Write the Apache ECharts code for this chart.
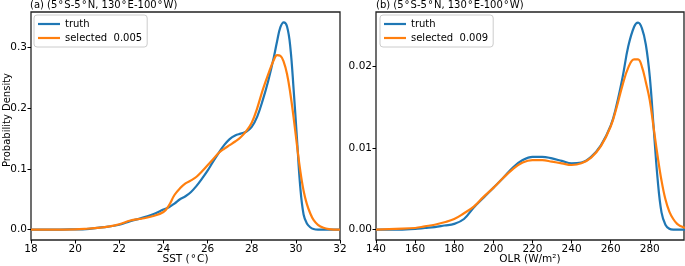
<!DOCTYPE html>
<html>
<head>
    <meta charset="utf-8">
    <script type="text/javascript" src="https://cdn.jsdelivr.net/npm/echarts@6/dist/echarts.min.js"></script>
</head>
<body style="margin:0;background:#fff;">
<div id="main" style="width:685px;height:266px;"></div>

<script type="text/javascript">
    // (a) SST 概率密度
    var sstX = [18, 19, 20, 20.5, 21, 21.5, 22, 22.5, 23, 23.5, 24, 24.25, 24.5, 24.75, 25, 25.25, 25.5, 25.75,
        26, 26.25, 26.5, 26.75, 27, 27.25, 27.5, 27.75, 28, 28.25, 28.5, 28.75, 29, 29.15, 29.3, 29.45, 29.6,
        29.75, 29.9, 30.05, 30.2, 30.35, 30.5, 30.65, 30.8, 31, 31.25, 31.5, 32];
    var sstTruth = [0, 0, 0.0005, 0.001, 0.003, 0.005, 0.008, 0.014, 0.019, 0.025, 0.033, 0.037, 0.043, 0.050,
        0.055, 0.062, 0.072, 0.084, 0.097, 0.112, 0.126, 0.139, 0.149, 0.155, 0.158, 0.161, 0.169, 0.186, 0.213,
        0.245, 0.283, 0.310, 0.333, 0.341, 0.334, 0.300, 0.230, 0.150, 0.070, 0.025, 0.010, 0.004, 0.001, 0, 0, 0, 0];
    var sstSelected = [0, 0, 0.0005, 0.0015, 0.003, 0.005, 0.009, 0.015, 0.018, 0.022, 0.029, 0.040, 0.057, 0.068,
        0.076, 0.081, 0.087, 0.096, 0.106, 0.116, 0.126, 0.133, 0.139, 0.145, 0.152, 0.162, 0.176, 0.200, 0.230,
        0.256, 0.279, 0.287, 0.286, 0.276, 0.256, 0.224, 0.184, 0.139, 0.097, 0.064, 0.042, 0.027, 0.016, 0.008,
        0.003, 0.001, 0];
    var sstTicks = [0, 0.1, 0.2, 0.3];

    // (b) OLR 概率密度
    var olrX = [140, 150, 160, 165, 170, 175, 180, 185, 190, 195, 200, 205, 210, 215, 220, 225, 230, 235, 240,
        245, 250, 255, 260, 263, 266, 269, 272, 274, 276, 278, 280, 282, 284, 286, 288, 290, 292, 294, 296, 298];
    var olrTruth = [0, 0, 0.0001, 0.0002, 0.0003, 0.0005, 0.0007, 0.0013, 0.0027, 0.0039, 0.0051, 0.0063, 0.0076,
        0.0085, 0.0089, 0.0089, 0.0087, 0.0084, 0.0081, 0.0082, 0.0089, 0.0103, 0.0127, 0.0152, 0.0185, 0.0224,
        0.0248, 0.0253, 0.0246, 0.0226, 0.0187, 0.0124, 0.0062, 0.0021, 0.0006, 0.0001, 0, 0, 0, 0];
    var olrSelected = [0, 0.0001, 0.0002, 0.0004, 0.0006, 0.0009, 0.0013, 0.0020, 0.0028, 0.0040, 0.0051, 0.0063,
        0.0074, 0.0082, 0.0085, 0.0085, 0.0083, 0.0081, 0.0079, 0.0081, 0.0088, 0.0102, 0.0126, 0.0149, 0.0176,
        0.0198, 0.0208, 0.0208, 0.0199, 0.0180, 0.0158, 0.0124, 0.0090, 0.0060, 0.0037, 0.0022, 0.0013, 0.0007,
        0.0004, 0.0002];
    var olrTicks = [0, 0.01, 0.02];
    var olrXTicks = [140, 160, 180, 200, 220, 240, 260, 280];

    var FONT = 'DejaVu Sans';
    var BLUE = '#1f77b4', ORANGE = '#ff7f0e';

    function pairs(xs, ys) {
        var out = [];
        for (var i = 0; i < xs.length; i++) out.push([xs[i], ys[i]]);
        return out;
    }

    function xAxisOf(idx, min, max, name, ticks) {
        var ax = {
            type: 'value', gridIndex: idx, min: min, max: max,
            name: name, nameLocation: 'middle', nameGap: 14, nameMoveOverlap: false,
            nameTextStyle: {fontFamily: FONT, fontSize: 10.5, color: '#000'},
            axisLine: {show: false, onZero: false},
            axisTick: {show: true, inside: false, length: 3.5, lineStyle: {color: '#000', width: 1}},
            axisLabel: {fontFamily: FONT, fontSize: 10.5, color: '#000', margin: 4},
            splitLine: {show: false}
        };
        if (ticks) {
            ax.axisTick.customValues = ticks;
            ax.axisLabel.customValues = ticks;
        } else {
            ax.interval = 2;
        }
        return ax;
    }

    function yAxisOf(idx, min, max, ticks, digits, name) {
        return {
            type: 'value', gridIndex: idx, min: min, max: max,
            name: name || '', nameLocation: 'middle', nameGap: 19, nameMoveOverlap: false,
            nameTextStyle: {fontFamily: FONT, fontSize: 10, color: '#000', padding: [0, 0, 0, 12]},
            axisLine: {show: false, onZero: false},
            axisTick: {show: true, inside: false, length: 3.5, customValues: ticks, lineStyle: {color: '#000', width: 1}},
            axisLabel: {
                fontFamily: FONT, fontSize: 10.5, color: '#000', margin: 4, customValues: ticks,
                formatter: function (v) { return v.toFixed(digits); }
            },
            splitLine: {show: false}
        };
    }

    function legendOf(left, names) {
        return {
            left: left, top: 15, orient: 'vertical', data: names,
            icon: 'rect', itemWidth: 22, itemHeight: 2.2, itemGap: 2,
            padding: [3, 5, 3, 4],
            borderColor: '#cccccc', borderWidth: 1, borderRadius: 3,
            backgroundColor: 'rgba(255,255,255,0.8)',
            textStyle: {fontFamily: FONT, fontSize: 10, lineHeight: 12, color: '#000'}
        };
    }

    function lineOf(name, color, data, xi, yi) {
        return {
            name: name, type: 'line', xAxisIndex: xi, yAxisIndex: yi,
            data: data, smooth: 0.4, symbol: 'none',
            lineStyle: {color: color, width: 2.2}, itemStyle: {color: color}
        };
    }

    var deg = '\u200a°\u200a';
    var region = '(5' + deg + 'S-5' + deg + 'N, 130' + deg + 'E-100' + deg + 'W)';
    var myChart = echarts.init(document.getElementById('main'), null, {renderer: 'canvas'});
    var option = {
        animation: false,
        backgroundColor: '#fff',
        title: [
            {text: '(a) ' + region, left: 30, top: 0, padding: 0,
                textStyle: {fontFamily: FONT, fontSize: 10, fontWeight: 'normal', color: '#000'}},
            {text: '(b) ' + region, left: 376, top: 0, padding: 0,
                textStyle: {fontFamily: FONT, fontSize: 10, fontWeight: 'normal', color: '#000'}}
        ],
        grid: [
            {left: 31, top: 12, width: 309, height: 228, show: true, borderColor: '#222', borderWidth: 1.3,
                backgroundColor: 'transparent', outerBoundsMode: 'none', containLabel: false},
            {left: 376, top: 12, width: 308, height: 228, show: true, borderColor: '#222', borderWidth: 1.3,
                backgroundColor: 'transparent', outerBoundsMode: 'none', containLabel: false}
        ],
        legend: [
            legendOf(34, ['truth', 'selected  0.005']),
            legendOf(380, ['truth', 'selected  0.009'])
        ],
        xAxis: [
            xAxisOf(0, 18, 32, 'SST (' + deg + 'C)'),
            xAxisOf(1, 140, 297.5, 'OLR (W/m²)', olrXTicks)
        ],
        yAxis: [
            yAxisOf(0, -0.017, 0.358, sstTicks, 1, 'Probability Density'),
            yAxisOf(1, -0.00127, 0.0266, olrTicks, 2)
        ],
        series: [
            lineOf('truth', BLUE, pairs(sstX, sstTruth), 0, 0),
            lineOf('selected  0.005', ORANGE, pairs(sstX, sstSelected), 0, 0),
            lineOf('truth', BLUE, pairs(olrX, olrTruth), 1, 1),
            lineOf('selected  0.009', ORANGE, pairs(olrX, olrSelected), 1, 1)
        ]
    };
    myChart.setOption(option);
</script>
</body>
</html>
